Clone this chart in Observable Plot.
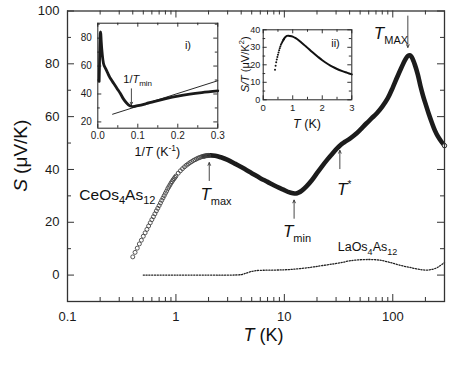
<!DOCTYPE html>
<html><head><meta charset="utf-8">
<script src="https://cdn.jsdelivr.net/npm/d3@7"></script>
<script src="https://cdn.jsdelivr.net/npm/@observablehq/plot@0.6"></script>
<style>
body{margin:0;background:#fff;}
#wrap{position:relative;width:450px;height:366px;font-family:"Liberation Sans",Arial,sans-serif;}
#wrap svg{position:absolute;overflow:visible;background:transparent;}
</style></head><body><div id="wrap"></div>
<script>
// ---- main panel: CeOs4As12 (open circles, low T) ----
const ceDotT = [0.40,0.42,0.44,0.46,0.48,0.50,0.52,0.54,0.56,0.58,0.60,0.62,0.64,0.66,0.68,0.70,0.72,0.74,0.76,0.78,0.80,0.82,0.84,0.86,0.88,0.90,0.92,0.94,0.96,0.98,1.00,1.05,1.10,1.15,1.20,1.25,1.30,1.35,1.40,1.45,1.50,1.55,1.60,1.65,1.70,1.75,1.80,1.85,1.90,1.95,2.00];
const ceDotS = [6.9,8.6,10.2,11.8,13.2,14.7,16.0,17.3,18.6,19.8,21.0,22.1,23.2,24.3,25.3,26.3,27.3,28.3,29.2,30.1,31.0,31.8,32.7,33.4,34.1,34.8,35.4,36.0,36.5,37.0,37.5,38.6,39.5,40.3,41.0,41.6,42.1,42.6,43.0,43.4,43.7,44.0,44.3,44.5,44.7,44.9,45.0,45.1,45.2,45.25,45.3];
// dense part (circles merge into a band)
const ceLineT = [1.8,2.0,2.3,2.6,3.0,3.5,4.0,5.0,6.0,7.0,8.0,9.0,10,11,12,12.8,13.5,14.5,16,18,20,22,25,27.5,30,33,36,40,45,50,57,64,72,80,90,100,110,120,130,138,145,150,160,170,180,190,200,215,230,245,260,280,300];
const ceLineS = [45.0,45.3,45.2,44.6,43.6,42.2,40.9,38.6,36.7,35.3,34.0,33.0,32.2,31.4,31.0,30.9,31.2,32.0,33.6,36.0,38.6,40.9,43.8,45.8,47.6,49.3,50.4,51.6,53.2,55.0,57.4,59.4,61.5,63.8,67.0,71.0,75.0,78.5,81.5,83.0,83.2,82.4,79.6,76.0,71.6,68.0,65.0,61.0,57.6,54.7,52.6,50.6,49.0];
// LaOs4As12 (dotted)
const laT = [0.5,1,2,3,4,4.5,5,5.5,6,8,10,12,15,18,20,25,30,35,40,50,60,70,80,90,100,120,140,160,180,200,220,250,270,300];
const laS = [0,0,0,0,0.2,0.8,1.4,1.7,1.8,1.9,2.0,2.2,2.6,3.0,3.3,3.9,4.4,4.9,5.4,5.8,5.9,5.8,5.5,5.0,4.5,3.6,3.0,2.5,2.1,1.9,2.0,2.6,3.4,4.8];
// ---- inset i): S vs 1/T ----
const invT = [0.0033,0.0040,0.0047,0.0055,0.0062,0.0068,0.0075,0.0085,0.010,0.0125,0.015,0.019,0.024,0.029,0.033,0.040,0.048,0.056,0.064,0.072,0.080,0.087,0.10,0.12,0.14,0.17,0.20,0.23,0.26,0.30];
const invS = [49,58,68,78,83.5,84.5,83,78,72,65,61,58.5,55.5,52.5,50.5,47.5,44,40.5,36.5,33.5,31.5,31.0,31.6,33,34.6,36.7,38.5,39.9,41.0,42.2];
const fitX = [0.037,0.30];
const fitS = [25.5,49.5];
// ---- inset ii): S/T vs T ----
const iiDotT = [0.40,0.42,0.44,0.46,0.48,0.50,0.52,0.54,0.56,0.58,0.60,0.62,0.64,0.66,0.68,0.70];
const iiDotS = [17.2,19.5,21.4,23.0,24.5,25.8,27.0,28.3,29.5,30.5,31.4,32.2,32.9,33.5,34.1,34.6];
const iiLineT = [0.68,0.72,0.76,0.80,0.85,0.90,1.0,1.1,1.2,1.32,1.45,1.66,1.85,2.0,2.2,2.34,2.5,2.68,2.85,3.0];
const iiLineS = [34.1,35.2,36.0,36.5,36.6,36.5,36.1,35.2,34.0,32.3,30.5,27.3,24.6,22.6,20.3,18.9,17.6,16.4,15.4,14.5];
// ---- ticks ----
const xMajor = [0.1,1,10,100];
const xMinor = [0.2,0.3,0.4,0.5,0.6,0.7,0.8,0.9,2,3,4,5,6,7,8,9,20,30,40,50,60,70,80,90,200,300];
const yMajor = [0,20,40,60,80,100];
const yMinor = [-10,10,30,50,70,90];
const i1xMajor = [0,0.1,0.2,0.3];
const i1xMinor = [0.05,0.15,0.25];
const i1yMajor = [20,40,60,80];
const i1yMinor = [30,50,70,90];
const i2xMajor = [0,1,2,3];
const i2xMinor = [0.5,1.5,2.5];
const i2yMajor = [0,10,20,30,40];
const i2yMinor = [5,15,25,35];

const FONT = '"Liberation Sans", Arial, sans-serif';
const host = document.getElementById("wrap");
const zip = (a, b) => a.map((v, i) => ({x: v, y: b[i]}));

function tickMarks(xMaj, xMin, yMaj, yMin, innerW, innerH, L, l, color) {
  const m = [];
  const mk = (arr, len, isX) => {
    if (isX) {
      m.push(Plot.ruleX(arr, {x: d => d, insetTop: innerH - len, stroke: color}));
      m.push(Plot.ruleX(arr, {x: d => d, insetBottom: innerH - len, stroke: color}));
    } else {
      m.push(Plot.ruleY(arr, {y: d => d, insetRight: innerW - len, stroke: color}));
      m.push(Plot.ruleY(arr, {y: d => d, insetLeft: innerW - len, stroke: color}));
    }
  };
  mk(xMaj, L, true); mk(xMin, l, true); mk(yMaj, L, false); mk(yMin, l, false);
  return m;
}

function rich(svg, x, y, parts, {size = 15, anchor = "start", fill = "#111", rotate = 0} = {}) {
  const t = svg.append("text")
    .attr("text-anchor", anchor).attr("font-size", size).attr("fill", fill)
    .attr("font-family", FONT)
    .attr("transform", `translate(${x},${y}) rotate(${rotate})`);
  let shift = 0;
  for (const p of parts) {
    const s = t.append("tspan").text(p.t);
    const ps = p.size || (p.sub || p.sup ? size * 0.68 : size);
    s.attr("font-size", ps);
    if (p.i) s.attr("font-style", "italic");
    const target = p.sub ? size * 0.28 : p.sup ? -size * 0.42 : 0;
    if (target - shift !== 0) s.attr("dy", target - shift);
    shift = target;
  }
  return t;
}

// ---------------- main plot ----------------
const W = 450, H = 366, mL = 67, mR = 6, mT = 10.5, mB = 65;
const iW = W - mL - mR, iH = H - mT - mB;
const main = Plot.plot({
  width: W, height: H, marginLeft: mL, marginRight: mR, marginTop: mT, marginBottom: mB,
  style: {fontFamily: FONT, fontSize: "13px", color: "#1a1a1a", background: "transparent"},
  x: {type: "log", domain: [0.1, 300]},
  y: {domain: [-10, 100]},
  marks: [
    ...tickMarks(xMajor, xMinor, yMajor, yMinor, iW, iH, 7, 4, "#333"),
    Plot.axisX(xMajor, {tickSize: 0, tickPadding: 10, tickFormat: d => String(d), fontSize: 13, label: null}),
    Plot.axisY(yMajor, {tickSize: 0, tickPadding: 8, fontSize: 13, label: null}),
    Plot.line(zip(laT, laS), {x: "x", y: "y", curve: "catmull-rom", stroke: "#222", strokeWidth: 1.3, strokeDasharray: "1.2,1.6"}),
    Plot.line(zip(ceLineT, ceLineS), {x: "x", y: "y", curve: "catmull-rom", stroke: "#1c1c1c", strokeWidth: 4.6}),
    Plot.dot(zip(ceDotT, ceDotS), {x: "x", y: "y", r: 2, stroke: "#444", strokeWidth: 0.9, fill: "none"}),
    Plot.dot(zip([ceLineT[ceLineT.length - 1]], [ceLineS[ceLineS.length - 1]]), {x: "x", y: "y", r: 2.2, stroke: "#222", strokeWidth: 0.9, fill: "white"}),
    Plot.arrow([{x1: 2.03, y1: 35.8, x2: 2.03, y2: 42.6}, {x1: 12.3, y1: 21.5, x2: 12.3, y2: 28.4}, {x1: 32.5, y1: 40.3, x2: 32.5, y2: 47.2}, {x1: 137.7, y1: 98.1, x2: 137.7, y2: 86.2}],
      {x1: "x1", y1: "y1", x2: "x2", y2: "y2", stroke: "#333", strokeWidth: 0.9, headLength: 5, headAngle: 50}),
    Plot.frame({stroke: "#333", strokeWidth: 1.3})
  ]
});
main.style.left = "0px"; main.style.top = "0px";
host.appendChild(main);
const ms = d3.select(main);
const X = v => main.scale("x").apply(v), Y = v => main.scale("y").apply(v);
rich(ms, X(1.70), Y(28.2), [{t: "T", i: true}, {t: "max", sub: true, size: 11}], {size: 17});
rich(ms, X(9.8), Y(14.2), [{t: "T", i: true}, {t: "min", sub: true, size: 11}], {size: 17});
rich(ms, X(31), Y(30.2), [{t: "T", i: true}, {t: "*", sup: true, size: 10}], {size: 17});
rich(ms, X(67.6), Y(89.3), [{t: "T", i: true}, {t: "MAX", sub: true, size: 11}], {size: 17});
rich(ms, X(0.130), Y(28.2), [{t: "CeOs"}, {t: "4", sub: true, size: 11}, {t: "As"}, {t: "12", sub: true, size: 11}], {size: 15.5});
rich(ms, X(31.4), Y(8.9), [{t: "LaOs"}, {t: "4", sub: true, size: 9}, {t: "As"}, {t: "12", sub: true, size: 9}], {size: 12.5});
rich(ms, mL + iW / 2 + 8, H - 25, [{t: "T", i: true}, {t: " (K)"}], {size: 18, anchor: "middle"});
rich(ms, 27, mT + iH / 2, [{t: "S", i: true}, {t: " (\u03BCV/K)"}], {size: 19, anchor: "middle", rotate: -90});

// ---------------- inset i) ----------------
const a = {left: 70, top: 15, mL: 27.3, mR: 7, mT: 7.7, mB: 35};
a.W = 217.3 - a.left + a.mR; a.H = 127.7 - a.top + a.mB;
const aiW = a.W - a.mL - a.mR, aiH = a.H - a.mT - a.mB;
const ins1 = Plot.plot({
  width: a.W, height: a.H, marginLeft: a.mL, marginRight: a.mR, marginTop: a.mT, marginBottom: a.mB,
  style: {fontFamily: FONT, fontSize: "10px", color: "#1a1a1a", background: "transparent"},
  x: {domain: [0, 0.3]},
  y: {domain: [15.5, 90.7]},
  marks: [
    ...tickMarks(i1xMajor, i1xMinor, i1yMajor, i1yMinor, aiW, aiH, 4, 2.5, "#333"),
    Plot.axisX(i1xMajor, {tickSize: 0, tickPadding: 4, tickFormat: d => d.toFixed(1), fontSize: 10, label: null}),
    Plot.axisY(i1yMajor, {tickSize: 0, tickPadding: 6, fontSize: 10, label: null}),
    Plot.line(zip(fitX, fitS), {x: "x", y: "y", stroke: "#111", strokeWidth: 0.9}),
    Plot.line(zip(invT, invS), {x: "x", y: "y", curve: "catmull-rom", stroke: "#1a1a1a", strokeWidth: 2.8}),
    Plot.arrow([{x1: 0.084, y1: 43.7, x2: 0.084, y2: 32.3}], {x1: "x1", y1: "y1", x2: "x2", y2: "y2", stroke: "#333", strokeWidth: 0.9, headLength: 4.5, headAngle: 50}),
    Plot.frame({stroke: "#222", strokeWidth: 1})
  ]
});
ins1.style.left = a.left + "px"; ins1.style.top = a.top + "px";
host.appendChild(ins1);
const s1 = d3.select(ins1);
const X1 = v => ins1.scale("x").apply(v), Y1 = v => ins1.scale("y").apply(v);
rich(s1, X1(0.065), Y1(47.7), [{t: "1/"}, {t: "T", i: true}, {t: "min", sub: true, size: 8}], {size: 11});
rich(s1, X1(0.219), Y1(71.9), [{t: "i)"}], {size: 11});
rich(s1, a.mL + aiW / 2, a.H - 6.5, [{t: "1/"}, {t: "T", i: true}, {t: " (K"}, {t: "-1", sup: true, size: 8.5}, {t: ")"}], {size: 12.5, anchor: "middle"});

// ---------------- inset ii) ----------------
const b = {left: 238, top: 20, mL: 24.7, mR: 7, mT: 9.3, mB: 35};
b.W = 351.3 - b.left + b.mR; b.H = 99.3 - b.top + b.mB;
const biW = b.W - b.mL - b.mR, biH = b.H - b.mT - b.mB;
const ins2 = Plot.plot({
  width: b.W, height: b.H, marginLeft: b.mL, marginRight: b.mR, marginTop: b.mT, marginBottom: b.mB,
  style: {fontFamily: FONT, fontSize: "9px", color: "#1a1a1a", background: "transparent"},
  x: {domain: [0, 3]},
  y: {domain: [0, 40]},
  marks: [
    ...tickMarks(i2xMajor, i2xMinor, i2yMajor, i2yMinor, biW, biH, 4, 2.5, "#333"),
    Plot.axisX(i2xMajor, {tickSize: 0, tickPadding: 4, fontSize: 9.5, label: null}),
    Plot.axisY(i2yMajor, {tickSize: 0, tickPadding: 3, fontSize: 9, label: null}),
    Plot.line(zip(iiLineT, iiLineS), {x: "x", y: "y", curve: "catmull-rom", stroke: "#111", strokeWidth: 2}),
    Plot.dot(zip(iiDotT, iiDotS), {x: "x", y: "y", r: 1, fill: "#111", stroke: "none"}),
    Plot.frame({stroke: "#222", strokeWidth: 1})
  ]
});
ins2.style.left = b.left + "px"; ins2.style.top = b.top + "px";
host.appendChild(ins2);
const s2 = d3.select(ins2);
const X2 = v => ins2.scale("x").apply(v), Y2 = v => ins2.scale("y").apply(v);
rich(s2, X2(2.32), Y2(29.9), [{t: "ii)"}], {size: 11});
rich(s2, b.mL + biW / 2, b.H - 6, [{t: "T", i: true}, {t: " (K)"}], {size: 12.5, anchor: "middle"});
rich(s2, 11, b.mT + biH / 2, [{t: "S/T", i: true}, {t: " (\u03BCV/K"}, {t: "2", sup: true, size: 8}, {t: ")"}], {size: 11, anchor: "middle", rotate: -90});
</script></body></html>
